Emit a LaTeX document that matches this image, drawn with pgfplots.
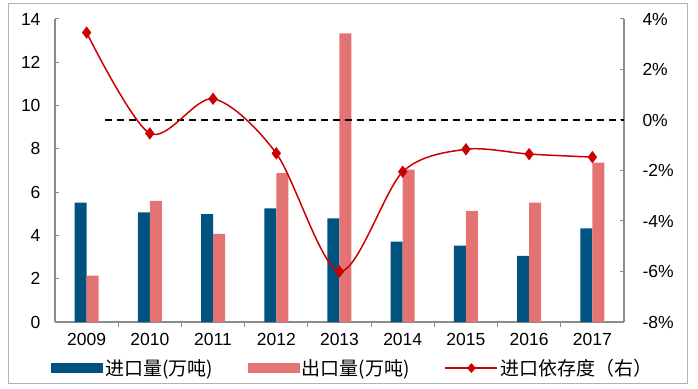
\documentclass[border=0pt]{standalone}
\usepackage{fontspec}
\setmainfont{Liberation Sans}
\newfontfamily\cjk{Noto Sans CJK SC}
\usepackage{pgfplots}
\pgfplotsset{compat=1.18}
\definecolor{barblue}{HTML}{00527F}
\definecolor{barpink}{HTML}{E47474}
\definecolor{linered}{HTML}{CC0000}
\definecolor{axgray}{HTML}{8C8C8C}
\pgfplotsset{
  linelegend/.style={legend image code/.code={%
    \draw[linered, line width=1.5bp] (0bp,0bp) -- (52bp,0bp);
    \fill[linered] (26bp,4.5bp) -- (30bp,0bp) -- (26bp,-4.5bp) -- (22bp,0bp) -- cycle;}},
  bluelegend/.style={legend image code/.code={\fill[barblue] (0bp,-5bp) rectangle (52bp,5bp);}},
  pinklegend/.style={legend image code/.code={\fill[barpink] (0bp,-5bp) rectangle (52bp,5bp);}},
}
\begin{document}
\begin{tikzpicture}
\useasboundingbox (-55bp,-67bp) rectangle (643bp,322bp);
\draw[gray!60, line width=1bp] (-46bp,-61bp) rectangle (632bp,318bp);
\begin{axis}[
 scale only axis, width=569bp, height=303bp,
 xmin=-0.5, xmax=8.5, ymin=0, ymax=14,
 axis x line*=bottom, axis y line*=left,
 axis line style={draw=axgray, line width=1.2bp},
 every tick/.style={draw=axgray, line width=1bp},
 xtick={0,1,2,3,4,5,6,7,8},
 xticklabels={2009,2010,2011,2012,2013,2014,2015,2016,2017},
 major x tick style={draw=none},
 minor xtick={0.5,1.5,2.5,3.5,4.5,5.5,6.5,7.5},
 minor tick length=5bp, major tick length=4bp,
 ytick={0,2,4,6,8,10,12,14}, yticklabels={0,2,4,6,8,10,12,14},
 tick label style={font=\fontsize{17.5bp}{20bp}\selectfont},
 xticklabel style={yshift=-4bp},
 yticklabel style={xshift=-11bp},
 ybar=0pt, bar width=12bp,
 legend style={at={(0.523,-0.152)}, anchor=center, draw=none, fill=none,
   legend columns=3, font=\cjk\fontsize{19bp}{22bp}\selectfont,
   /tikz/every even column/.append style={column sep=33bp}},
 legend cell align=left,
]
\addplot[fill=barblue, draw=none, bluelegend]
  coordinates {(0,5.51) (1,5.07) (2,4.98) (3,5.25) (4,4.79) (5,3.71) (6,3.53) (7,3.06) (8,4.33)};
\addlegendentry{进口量(万吨)}
\addplot[fill=barpink, draw=none, pinklegend]
  coordinates {(0,2.14) (1,5.60) (2,4.07) (3,6.88) (4,13.34) (5,7.04) (6,5.14) (7,5.51) (8,7.36)};
\addlegendentry{出口量(万吨)}
\addlegendimage{linelegend}
\addlegendentry{进口依存度（右）}
\end{axis}
\begin{axis}[
 scale only axis, width=569bp, height=303bp,
 xmin=-0.5, xmax=8.5, ymin=-8, ymax=4,
 axis y line*=right, axis x line=none,
 axis line style={draw=axgray, line width=1.2bp},
 every tick/.style={draw=axgray, line width=1bp},
 major tick length=4bp,
 ytick={-8,-6,-4,-2,0,2,4},
 yticklabels={-8\%,-6\%,-4\%,-2\%,0\%,2\%,4\%},
 tick label style={font=\fontsize{17.5bp}{20bp}\selectfont},
 yticklabel style={anchor=west, xshift=15bp},
]
\addplot[black, line width=1.6bp, dash pattern=on 7.5bp off 4.5bp] coordinates {(0.29,0) (8.5,0)};
\addplot[linered, line width=1.5bp, smooth, mark=diamond*, mark size=5bp, mark options={solid}]
  coordinates {(0,3.46) (1,-0.53) (2,0.84) (3,-1.32) (4,-6.0) (5,-2.05) (6,-1.16) (7,-1.35) (8,-1.47)};
\end{axis}
\end{tikzpicture}
\end{document}
